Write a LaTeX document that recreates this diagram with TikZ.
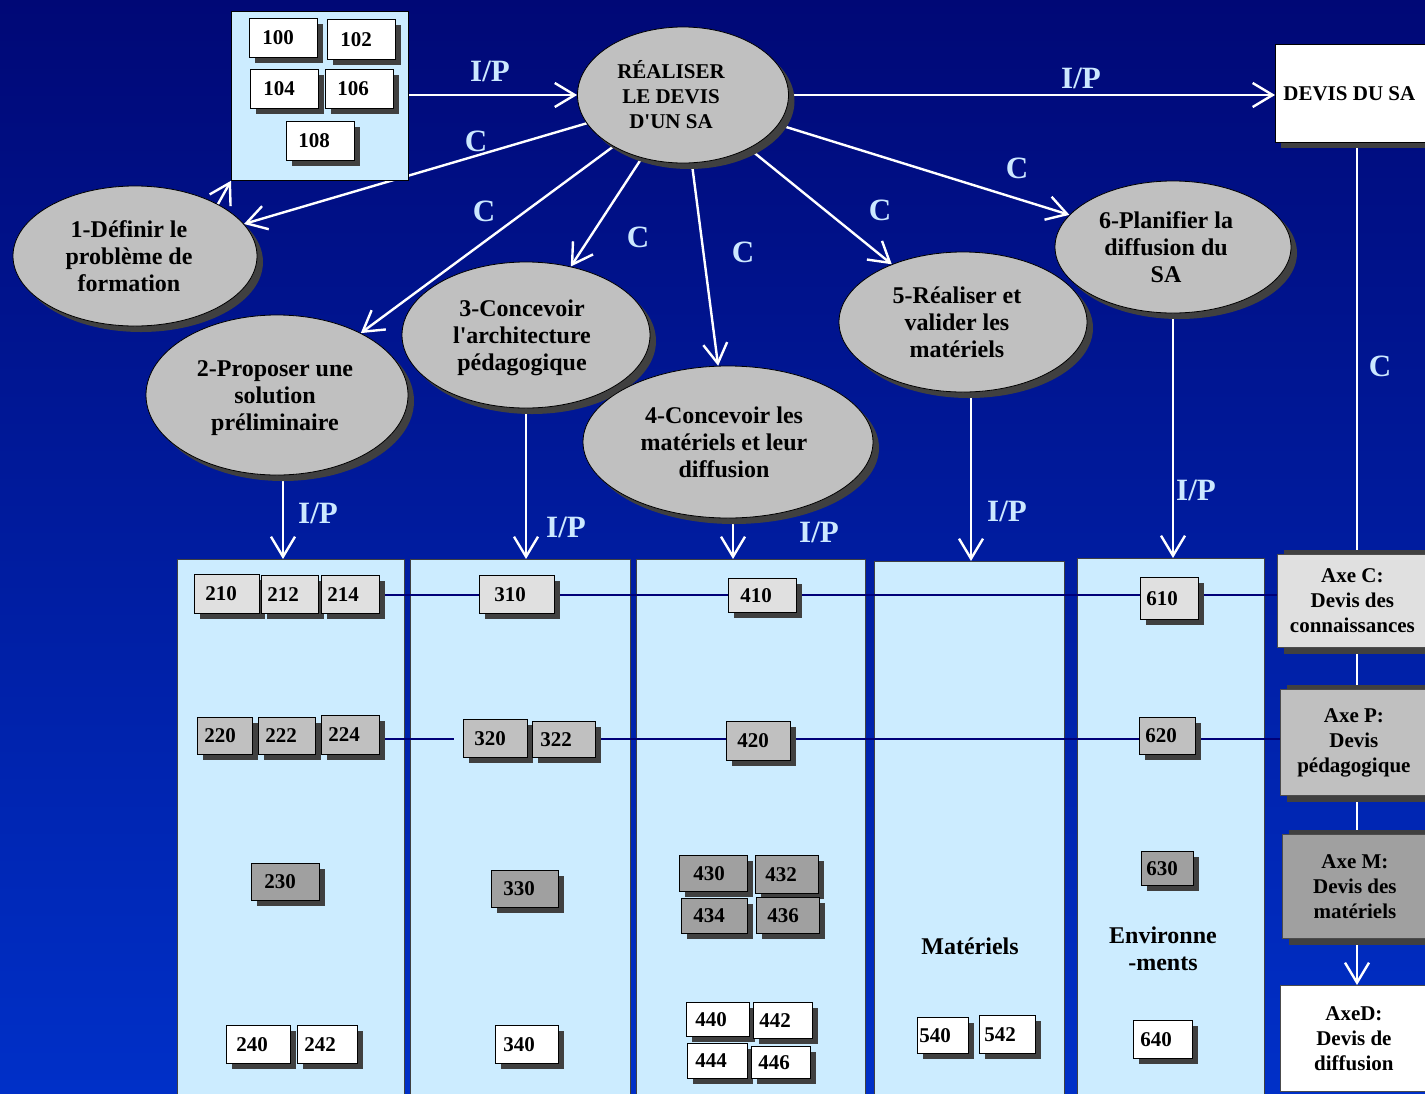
\documentclass[tikz,border=0pt]{standalone}
\usepackage{fontspec}
\setmainfont{Liberation Serif}
\usetikzlibrary{shapes.geometric,shadows,arrows.meta}
\definecolor{bgtop}{RGB}{0,8,118}
\definecolor{bgbot}{RGB}{0,48,200}
\definecolor{paleblue}{RGB}{204,236,255}
\definecolor{lblblue}{RGB}{204,232,255}
\definecolor{ellgray}{RGB}{192,192,192}
\definecolor{shgray}{RGB}{64,64,64}
\definecolor{gA}{RGB}{224,224,224}
\definecolor{gB}{RGB}{192,192,192}
\definecolor{gC}{RGB}{160,160,160}
\definecolor{navyline}{RGB}{0,0,120}
\pgfdeclarelayer{bg}
\pgfdeclarelayer{lines}
\pgfsetlayers{bg,lines,main}
\tikzset{
  sh/.style={drop shadow={shadow xshift=6pt, shadow yshift=-6pt, fill=shgray, opacity=1}},
  axsh/.style={drop shadow={shadow xshift=7pt, shadow yshift=-7pt, fill=shgray, opacity=1},
               drop shadow={shadow xshift=7pt, shadow yshift=4pt, fill=shgray, opacity=1}},
  proc/.style={ellipse, draw=black, line width=0.8pt, fill=ellgray, sh, inner sep=0pt,
               font=\fontsize{24}{27}\selectfont\bfseries},
  numbox/.style={rectangle, draw=black, line width=0.8pt, sh, inner xsep=0pt, inner ysep=0pt,
               anchor=north west, font=\fontsize{21}{24}\selectfont\bfseries},
  column/.style={rectangle, draw=black!75, line width=0.8pt, fill=paleblue, anchor=north west, inner sep=0pt},
  axebox/.style={rectangle, draw=black!70, line width=0.8pt, anchor=north west, inner sep=0pt, align=center,
               font=\fontsize{21}{25}\selectfont\bfseries},
  flow/.style={draw=white, line width=2.4pt, -{Straight Barb[length=20pt,width=24pt]}},
  rowline/.style={draw=navyline, line width=2pt},
  lbl/.style={text=lblblue, font=\fontsize{31}{33}\selectfont\bfseries, inner sep=0pt},
  coltext/.style={font=\fontsize{24}{27}\selectfont\bfseries, align=center, inner sep=0pt},
}
\newcommand{\numbox}[8]{\node[numbox, fill=#6, minimum height=#5pt] (#1) at (#2,#3) {\makebox[#4pt][l]{\hspace*{#7pt}#8}};}
\newcommand{\elines}[2]{\raisebox{-3pt}[\height][\depth]{\begin{tabular}{@{}c@{}}#2\end{tabular}}\hspace*{#1pt}}
\begin{document}
\begin{tikzpicture}[x=1pt,y=-1pt]
\useasboundingbox (0,0) rectangle (1425,1093);
\begin{pgfonlayer}{bg}
\shade[top color=bgtop, bottom color=bgbot] (0,0) rectangle (1425,1093);
\node[column, minimum width=227pt, minimum height=537pt] (col2) at (177,559) {};
\node[column, minimum width=220pt, minimum height=537pt] (col3) at (410,559) {};
\node[column, minimum width=229pt, minimum height=537pt] (col4) at (636,559) {};
\node[column, minimum width=190pt, minimum height=535pt] (col5) at (874,561) {};
\node[column, minimum width=187pt, minimum height=538pt] (col6) at (1077,558) {};
\end{pgfonlayer}

% top box with items
\node[column, draw=black, minimum width=177pt, minimum height=169pt] (top) at (231,11) {};
\numbox{b100}{249}{18}{68}{39}{white}{13}{100}
\numbox{b102}{327}{19}{68}{40}{white}{13}{102}
\numbox{b104}{250}{69}{68}{39}{white}{13}{104}
\numbox{b106}{325}{69}{68}{39}{white}{12}{106}
\numbox{b108}{286}{121}{68}{39}{white}{12}{108}

% ellipses
\node[proc, minimum width=211pt, minimum height=136pt, font=\fontsize{21}{25}\selectfont\bfseries] (C) at (683,95) {\elines{24}{RÉALISER\\LE DEVIS\\D\textquotesingle UN SA}};
\node[proc, minimum width=244pt, minimum height=140pt] (e1) at (135,256) {\elines{12}{1-Définir le\\problème de\\formation}};
\node[proc, minimum width=262pt, minimum height=160pt] (e2) at (277,395) {\elines{4}{2-Proposer une\\solution\\préliminaire}};
\node[proc, minimum width=248pt, minimum height=146pt] (e3) at (526,335) {\elines{8}{3-Concevoir\\l\textquotesingle architecture\\pédagogique}};
\node[proc, minimum width=290pt, minimum height=152pt] (e4) at (728,442) {\elines{8}{4-Concevoir les\\matériels et leur\\diffusion}};
\node[proc, minimum width=248pt, minimum height=140pt] (e5) at (963,322) {\elines{12}{5-Réaliser et\\valider les\\matériels}};
\node[proc, minimum width=236pt, minimum height=132pt] (e6) at (1173,247) {\elines{14}{6-Planifier la\\diffusion du\\SA}};

% devis box
\node[rectangle, draw=black, line width=0.8pt, fill=white, sh, anchor=north west, inner sep=0pt,
      minimum height=98pt, font=\fontsize{21}{24}\selectfont\bfseries] (devis) at (1275,44)
      {\makebox[155pt][l]{\hspace*{8pt}DEVIS DU SA}};

% axes
\node[axebox, axsh, fill=gA, minimum width=150pt, minimum height=93pt] (axeC) at (1277,554) {Axe C:\\Devis des\\connaissances};
\node[axebox, axsh, fill=gB, minimum width=147pt, minimum height=106pt] (axeP) at (1280,689) {Axe P:\\Devis\\pédagogique};
\node[axebox, axsh, fill=gC, minimum width=145pt, minimum height=104pt] (axeM) at (1282,834) {Axe M:\\Devis des\\matériels};
\node[axebox, fill=white, minimum width=147pt, minimum height=106pt] (axeD) at (1280,985) {AxeD:\\Devis de\\diffusion};

% row 1
\numbox{b210}{194}{574}{65}{39}{gA}{11}{210}
\numbox{b212}{261}{575}{57}{38}{gA}{6}{212}
\numbox{b214}{321}{575}{58}{38}{gA}{6}{214}
\numbox{b310}{479}{575}{75}{38}{gA}{15}{310}
\numbox{b410}{728}{578}{68}{34}{gA}{12}{410}
\numbox{b610}{1140}{577}{58}{42}{gA}{6}{610}
% row 2
\numbox{b220}{197}{717}{55}{37}{gB}{7}{220}
\numbox{b222}{258}{717}{57}{37}{gB}{7}{222}
\numbox{b224}{321}{715}{58}{39}{gB}{7}{224}
\numbox{b320}{463}{719}{64}{38}{gB}{11}{320}
\numbox{b322}{532}{721}{63}{36}{gB}{8}{322}
\numbox{b420}{726}{721}{64}{39}{gB}{11}{420}
\numbox{b620}{1139}{717}{56}{37}{gB}{6}{620}
% row 3
\numbox{b230}{251}{863}{68}{37}{gC}{13}{230}
\numbox{b330}{491}{870}{67}{37}{gC}{12}{330}
\numbox{b430}{679}{855}{68}{36}{gC}{14}{430}
\numbox{b432}{755}{855}{63}{38}{gC}{10}{432}
\numbox{b434}{681}{898}{66}{35}{gC}{12}{434}
\numbox{b436}{756}{897}{63}{36}{gC}{11}{436}
\numbox{b630}{1141}{851}{52}{34}{gC}{5}{630}
% row 4
\numbox{b240}{226}{1025}{64}{38}{white}{10}{240}
\numbox{b242}{297}{1025}{60}{38}{white}{7}{242}
\numbox{b340}{495}{1025}{63}{38}{white}{8}{340}
\numbox{b440}{686}{1002}{63}{34}{white}{9}{440}
\numbox{b442}{753}{1002}{59}{36}{white}{6}{442}
\numbox{b444}{687}{1043}{60}{35}{white}{8}{444}
\numbox{b446}{751}{1046}{59}{32}{white}{7}{446}
\numbox{b540}{917}{1017}{51}{36}{white}{2}{540}
\numbox{b542}{979}{1015}{56}{38}{white}{5}{542}
\numbox{b640}{1133}{1020}{59}{38}{white}{7}{640}

% column captions
\node[coltext] (mat) at (970,946) {Matériels};
\node[coltext] (env) at (1163,949) {Environne\\-ments};

% labels
\node[lbl] (l1) at (490,71) {I/P};
\node[lbl] (l2) at (1081,78) {I/P};
\node[lbl] (l3) at (476,141) {C};
\node[lbl] (l4) at (484,211) {C};
\node[lbl] (l5) at (638,237) {C};
\node[lbl] (l6) at (743,252) {C};
\node[lbl] (l7) at (880,210) {C};
\node[lbl] (l8) at (1017,168) {C};
\node[lbl] (l9) at (1380,366) {C};
\node[lbl] (l10) at (318,513) {I/P};
\node[lbl] (l11) at (566,527) {I/P};
\node[lbl] (l12) at (819,532) {I/P};
\node[lbl] (l13) at (1007,511) {I/P};
\node[lbl] (l14) at (1196,490) {I/P};

\begin{pgfonlayer}{lines}
\draw[flow] (top.east |- C) -- (C.west);
\draw[flow] (C.east) -- (C.east -| devis.west);
\draw[flow] (C) -- (e1);
\draw[flow] (C) -- (e2);
\draw[flow] (C) -- (e3);
\draw[flow] (C) -- (e4);
\draw[flow] (C) -- (e5);
\draw[flow] (C) -- (e6);
\draw[flow] (e1.32) -- (top.south west);
\draw[flow] ([xshift=6pt]e2.south) -- ([xshift=6pt]e2.south |- col2.north);
\draw[flow] (e3.south) -- (e3.south |- col3.north);
\draw[flow] ([xshift=5pt]e4.south) -- ([xshift=5pt]e4.south |- col4.north);
\draw[flow] ([xshift=8pt]e5.south) -- ([xshift=8pt]e5.south |- col5.north);
\draw[flow] (e6.south) -- (e6.south |- col6.north);
\coordinate (vx) at (1357,0);
\draw[flow] (devis.south -| vx) -- (axeD.north -| vx);
\coordinate (r1) at (0,595);
\coordinate (r2) at (0,739);
\draw[rowline] (b214.east |- r1) -- (axeC.west |- r1);
\draw[rowline] (b224.east |- r2) -- ([xshift=-9pt]b320.west |- r2);
\draw[rowline] (b320.east |- r2) -- (axeP.west |- r2);
\end{pgfonlayer}
\end{tikzpicture}
\end{document}
